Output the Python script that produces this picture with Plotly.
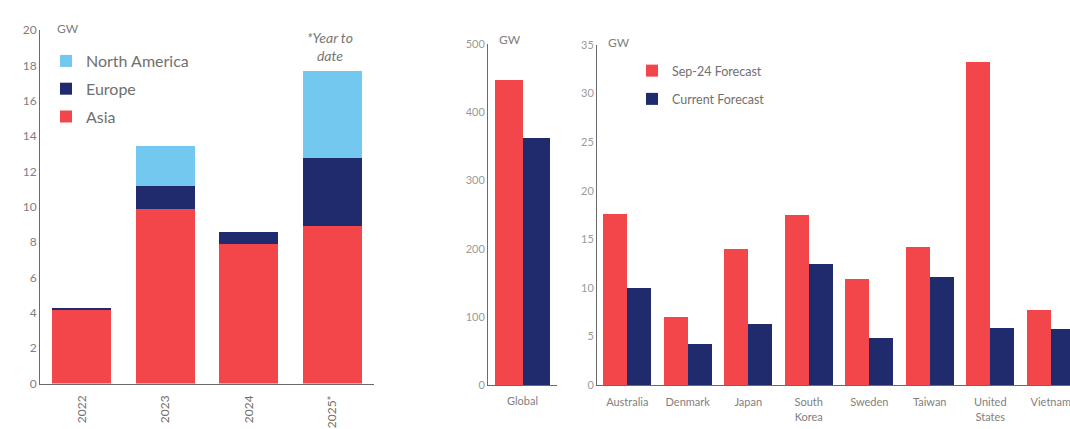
import plotly.graph_objects as go

# ---- data ----
years = ["2022", "2023", "2024", "2025*"]
asia = [4.2, 9.9, 7.9, 8.9]
europe = [0.06, 1.3, 0.7, 3.85]
north_america = [0.0, 2.25, 0.0, 4.95]

global_cat = ["Global"]
global_sep24 = [448]
global_current = [363]

countries = ["Australia", "Denmark", "Japan", "South<br>Korea", "Sweden", "Taiwan", "United<br>States", "Vietnam"]
sep24 = [17.6, 7.0, 14.0, 17.5, 10.9, 14.2, 33.2, 7.7]
current = [10.0, 4.2, 6.3, 12.5, 4.8, 11.1, 5.9, 5.8]

left_ticks = list(range(0, 21, 2))
mid_ticks = list(range(0, 501, 100))
right_ticks = list(range(0, 36, 5))

RED = "#F2464B"
NAVY = "#1F2B6C"
LIGHT = "#72C8EF"
FONT = "Lato"
TICK_GRAY = "#808080"
AXIS_GRAY = "#6a6a6a"

W, H = 1070, 429

fig = go.Figure()

# left stacked chart
fig.add_trace(go.Bar(x=years, y=asia, name="Asia", marker_color=RED, xaxis="x", yaxis="y",
                     legend="legend", legendgroup="a", legendrank=3))
fig.add_trace(go.Bar(x=years, y=europe, name="Europe", marker_color=NAVY, xaxis="x", yaxis="y",
                     legend="legend", legendgroup="e", legendrank=2))
fig.add_trace(go.Bar(x=years, y=north_america, name="North America", marker_color=LIGHT, xaxis="x", yaxis="y",
                     legend="legend", legendgroup="n", legendrank=1))

# middle chart
fig.add_trace(go.Bar(x=global_cat, y=global_sep24, name="Sep-24 Forecast", marker_color=RED,
                     xaxis="x2", yaxis="y2", showlegend=False, offsetgroup="s", width=0.4, offset=-0.4))
fig.add_trace(go.Bar(x=global_cat, y=global_current, name="Current Forecast", marker_color=NAVY,
                     xaxis="x2", yaxis="y2", showlegend=False, offsetgroup="c", width=0.4, offset=0.0))

# right chart
fig.add_trace(go.Bar(x=countries, y=sep24, name="Sep-24 Forecast", marker_color=RED,
                     xaxis="x3", yaxis="y3", legend="legend2", legendgroup="s", legendrank=1,
                     offsetgroup="s", width=0.4, offset=-0.4))
fig.add_trace(go.Bar(x=countries, y=current, name="Current Forecast", marker_color=NAVY,
                     xaxis="x3", yaxis="y3", legend="legend2", legendgroup="c", legendrank=2,
                     offsetgroup="c", width=0.4, offset=0.0))

fig.update_traces(marker_line_width=0)

def xd(a, b):
    return [a / W, b / W]

def yd(bottom_px, top_px):
    return [(H - bottom_px) / H, (H - top_px) / H]

axis_common = dict(showline=True, linecolor=AXIS_GRAY, linewidth=1, showgrid=False, zeroline=False,
                   ticks="", automargin=False, tickfont=dict(family=FONT, size=12, color=TICK_GRAY))

fig.update_layout(
    width=W, height=H,
    margin=dict(l=0, r=0, t=0, b=0, pad=0),
    paper_bgcolor="white", plot_bgcolor="white",
    font=dict(family=FONT, color=TICK_GRAY),
    barmode="stack",
    bargap=0.29,
    xaxis=dict(axis_common, domain=xd(40, 374), range=[-0.5, 3.5], tickangle=-90, anchor="y",
               ticklabelstandoff=6, tickfont=dict(family=FONT, size=12, color="#707070")),
    yaxis=dict(axis_common, domain=yd(383.5, 30), range=[0, 20], tickvals=left_ticks, anchor="x"),
    xaxis2=dict(axis_common, domain=xd(488, 557), range=[-0.5, 0.5], anchor="y2",
                ticklabelstandoff=6, tickfont=dict(family=FONT, size=11, color=TICK_GRAY)),
    yaxis2=dict(axis_common, domain=yd(385, 44.3), range=[0, 500], tickvals=mid_ticks, anchor="x2",
                tickfont=dict(family=FONT, size=11, color="#9a9a9a")),
    xaxis3=dict(axis_common, domain=xd(597, 1070), range=[-0.5, -0.5 + (1070 - 597) / 60.5], anchor="y3",
                ticklabelstandoff=7, tickfont=dict(family=FONT, size=11, color=TICK_GRAY)),
    yaxis3=dict(axis_common, domain=yd(385, 45), range=[0, 35], tickvals=right_ticks, anchor="x3",
                tickfont=dict(family=FONT, size=11, color="#9a9a9a")),
    legend=dict(x=46 / W, y=(H - 44) / H, xanchor="left", yanchor="top", traceorder="grouped",
                tracegroupgap=4, bgcolor="rgba(0,0,0,0)",
                font=dict(family=FONT, size=16, color="#707070"), itemwidth=30),
    legend2=dict(x=632 / W, y=(H - 56) / H, xanchor="left", yanchor="top", traceorder="grouped",
                 tracegroupgap=9, bgcolor="rgba(0,0,0,0)",
                 font=dict(family=FONT, size=12.5, color="#707070"), itemwidth=30),
)

annotations = [
    dict(text="GW", x=55 / W, y=(H - 28) / H),
    dict(text="GW", x=497 / W, y=(H - 39) / H),
    dict(text="GW", x=606 / W, y=(H - 42) / H),
]
for a in annotations:
    fig.add_annotation(xref="paper", yref="paper", x=a["x"], y=a["y"], text=a["text"], showarrow=False,
                       xanchor="left", yanchor="middle",
                       font=dict(family=FONT, size=12, color="#808080"))

fig.add_annotation(xref="paper", yref="paper", x=330 / W, y=(H - 47) / H,
                   text="<i>*Year to<br>date</i>", showarrow=False, xanchor="center", yanchor="middle",
                   font=dict(family=FONT, size=14, color="#777777"))

fig.write_html("out.html")
